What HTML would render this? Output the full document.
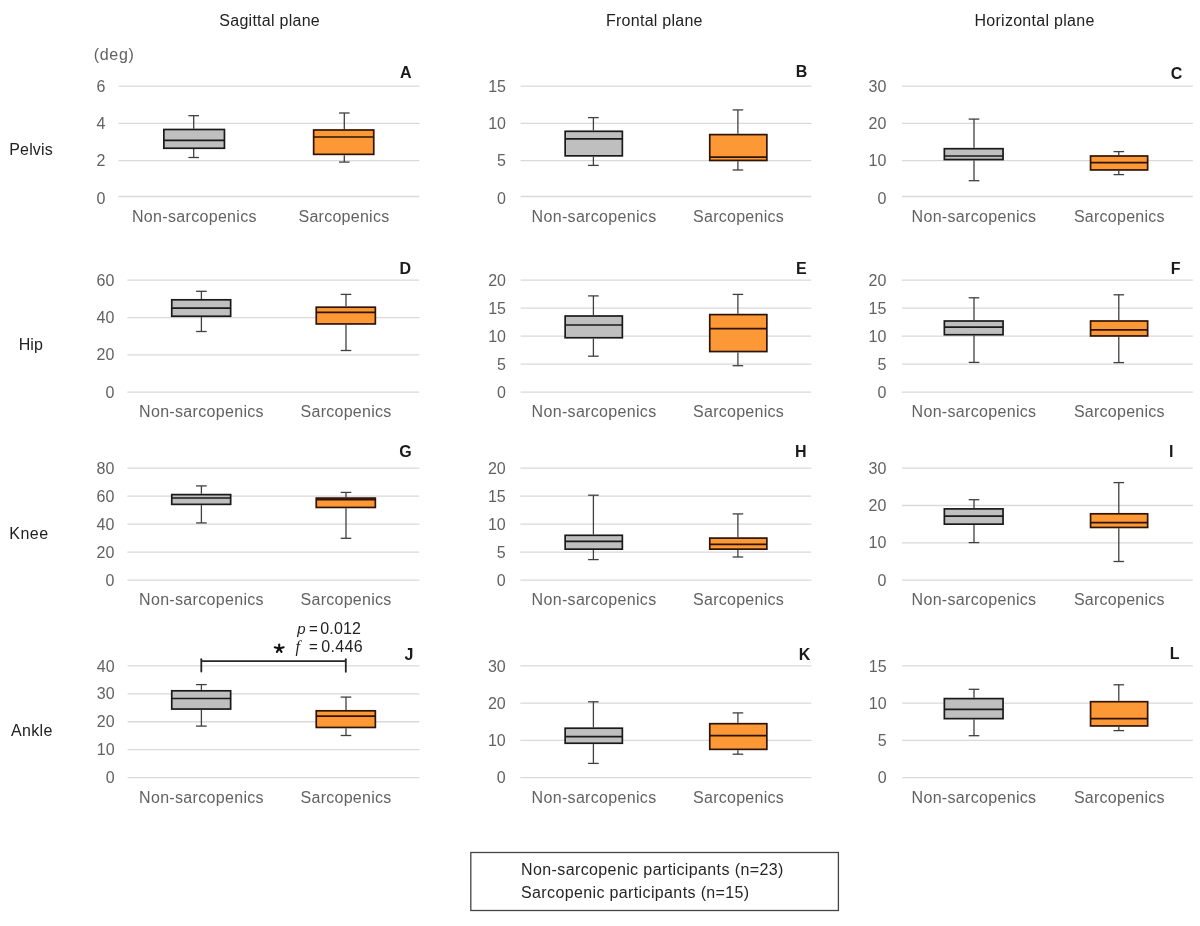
<!DOCTYPE html>
<html><head><meta charset="utf-8">
<style>
html,body{margin:0;padding:0;background:#fff;}
body{width:1200px;height:926px;overflow:hidden;}
svg{display:block;filter:blur(0.4px);}
text{font-family:"Liberation Sans", sans-serif;}
.tk{font-size:16px;fill:#626262;}
.xl{font-size:16px;fill:#626262;}
.ti{font-size:16px;fill:#222;}
.rl{font-size:16px;fill:#222;}
.let{font-size:16px;font-weight:bold;fill:#1a1a1a;}
.st{font-size:15px;fill:#222;}
.sd{letter-spacing:0.7px;}
.star{font-size:22px;font-weight:bold;fill:#111;}
.lg{font-size:16px;fill:#262626;}
</style></head>
<body>
<svg width="1200" height="926" viewBox="0 0 1200 926">
<rect width="1200" height="926" fill="#fff"/>
<line x1="118.5" y1="86.10" x2="419.3" y2="86.10" stroke="#d9d9d9" stroke-width="1.3"/>
<text x="105.5" y="91.70" text-anchor="end" class="tk">6</text>
<line x1="118.5" y1="123.40" x2="419.3" y2="123.40" stroke="#d9d9d9" stroke-width="1.3"/>
<text x="105.5" y="128.97" text-anchor="end" class="tk">4</text>
<line x1="118.5" y1="160.60" x2="419.3" y2="160.60" stroke="#d9d9d9" stroke-width="1.3"/>
<text x="105.5" y="166.24" text-anchor="end" class="tk">2</text>
<line x1="118.5" y1="196.50" x2="419.3" y2="196.50" stroke="#d9d9d9" stroke-width="1.3"/>
<text x="105.5" y="203.51" text-anchor="end" class="tk">0</text>
<line x1="193.70" y1="115.70" x2="193.70" y2="128.65" stroke="#404040" stroke-width="1.3"/>
<line x1="193.70" y1="149.10" x2="193.70" y2="157.50" stroke="#404040" stroke-width="1.3"/>
<line x1="188.40" y1="115.70" x2="199.00" y2="115.70" stroke="#404040" stroke-width="1.3"/>
<line x1="188.40" y1="157.50" x2="199.00" y2="157.50" stroke="#404040" stroke-width="1.3"/>
<rect x="163.85" y="129.50" width="60.60" height="18.75" fill="#bfbfbf" stroke="#1a1a1a" stroke-width="1.7"/>
<line x1="163.85" y1="140.30" x2="224.45" y2="140.30" stroke="#1a1a1a" stroke-width="1.7"/>
<text x="132.01" y="221.70" class="xl" letter-spacing="0.32">Non-sarcopenics</text>
<line x1="344.30" y1="113.00" x2="344.30" y2="129.15" stroke="#404040" stroke-width="1.3"/>
<line x1="344.30" y1="155.20" x2="344.30" y2="162.10" stroke="#404040" stroke-width="1.3"/>
<line x1="339.00" y1="113.00" x2="349.60" y2="113.00" stroke="#404040" stroke-width="1.3"/>
<line x1="339.00" y1="162.10" x2="349.60" y2="162.10" stroke="#404040" stroke-width="1.3"/>
<rect x="313.65" y="130.00" width="60.10" height="24.35" fill="#fc9936" stroke="#2e1406" stroke-width="1.7"/>
<line x1="313.65" y1="137.00" x2="373.75" y2="137.00" stroke="#2e1406" stroke-width="1.7"/>
<text x="298.50" y="221.70" class="xl" letter-spacing="0.26">Sarcopenics</text>
<text x="400.0" y="77.6" class="let">A</text>
<line x1="520.6" y1="86.10" x2="811.3" y2="86.10" stroke="#d9d9d9" stroke-width="1.3"/>
<text x="506.0" y="91.70" text-anchor="end" class="tk">15</text>
<line x1="520.6" y1="123.40" x2="811.3" y2="123.40" stroke="#d9d9d9" stroke-width="1.3"/>
<text x="506.0" y="128.97" text-anchor="end" class="tk">10</text>
<line x1="520.6" y1="160.60" x2="811.3" y2="160.60" stroke="#d9d9d9" stroke-width="1.3"/>
<text x="506.0" y="166.24" text-anchor="end" class="tk">5</text>
<line x1="520.6" y1="196.50" x2="811.3" y2="196.50" stroke="#d9d9d9" stroke-width="1.3"/>
<text x="506.0" y="203.51" text-anchor="end" class="tk">0</text>
<line x1="593.40" y1="117.60" x2="593.40" y2="130.45" stroke="#404040" stroke-width="1.3"/>
<line x1="593.40" y1="156.70" x2="593.40" y2="165.40" stroke="#404040" stroke-width="1.3"/>
<line x1="588.10" y1="117.60" x2="598.70" y2="117.60" stroke="#404040" stroke-width="1.3"/>
<line x1="588.10" y1="165.40" x2="598.70" y2="165.40" stroke="#404040" stroke-width="1.3"/>
<rect x="565.15" y="131.30" width="57.20" height="24.55" fill="#bfbfbf" stroke="#1a1a1a" stroke-width="1.7"/>
<line x1="565.15" y1="138.80" x2="622.35" y2="138.80" stroke="#1a1a1a" stroke-width="1.7"/>
<text x="531.61" y="221.70" class="xl" letter-spacing="0.32">Non-sarcopenics</text>
<line x1="737.90" y1="109.90" x2="737.90" y2="133.75" stroke="#404040" stroke-width="1.3"/>
<line x1="737.90" y1="161.30" x2="737.90" y2="170.00" stroke="#404040" stroke-width="1.3"/>
<line x1="732.60" y1="109.90" x2="743.20" y2="109.90" stroke="#404040" stroke-width="1.3"/>
<line x1="732.60" y1="170.00" x2="743.20" y2="170.00" stroke="#404040" stroke-width="1.3"/>
<rect x="709.75" y="134.60" width="57.10" height="25.85" fill="#fc9936" stroke="#2e1406" stroke-width="1.7"/>
<line x1="709.75" y1="157.20" x2="766.85" y2="157.20" stroke="#2e1406" stroke-width="1.7"/>
<text x="693.10" y="221.70" class="xl" letter-spacing="0.26">Sarcopenics</text>
<text x="795.8" y="77.4" class="let">B</text>
<line x1="901.9" y1="86.10" x2="1192.8" y2="86.10" stroke="#d9d9d9" stroke-width="1.3"/>
<text x="886.3" y="91.70" text-anchor="end" class="tk">30</text>
<line x1="901.9" y1="123.40" x2="1192.8" y2="123.40" stroke="#d9d9d9" stroke-width="1.3"/>
<text x="886.3" y="128.97" text-anchor="end" class="tk">20</text>
<line x1="901.9" y1="160.60" x2="1192.8" y2="160.60" stroke="#d9d9d9" stroke-width="1.3"/>
<text x="886.3" y="166.24" text-anchor="end" class="tk">10</text>
<line x1="901.9" y1="196.50" x2="1192.8" y2="196.50" stroke="#d9d9d9" stroke-width="1.3"/>
<text x="886.3" y="203.51" text-anchor="end" class="tk">0</text>
<line x1="974.00" y1="119.10" x2="974.00" y2="147.85" stroke="#404040" stroke-width="1.3"/>
<line x1="974.00" y1="160.40" x2="974.00" y2="180.70" stroke="#404040" stroke-width="1.3"/>
<line x1="968.70" y1="119.10" x2="979.30" y2="119.10" stroke="#404040" stroke-width="1.3"/>
<line x1="968.70" y1="180.70" x2="979.30" y2="180.70" stroke="#404040" stroke-width="1.3"/>
<rect x="944.35" y="148.70" width="58.70" height="10.85" fill="#bfbfbf" stroke="#1a1a1a" stroke-width="1.7"/>
<line x1="944.35" y1="156.00" x2="1003.05" y2="156.00" stroke="#1a1a1a" stroke-width="1.7"/>
<text x="911.56" y="221.70" class="xl" letter-spacing="0.32">Non-sarcopenics</text>
<line x1="1118.80" y1="151.60" x2="1118.80" y2="155.15" stroke="#404040" stroke-width="1.3"/>
<line x1="1118.80" y1="170.80" x2="1118.80" y2="174.60" stroke="#404040" stroke-width="1.3"/>
<line x1="1113.50" y1="151.60" x2="1124.10" y2="151.60" stroke="#404040" stroke-width="1.3"/>
<line x1="1113.50" y1="174.60" x2="1124.10" y2="174.60" stroke="#404040" stroke-width="1.3"/>
<rect x="1090.55" y="156.00" width="57.10" height="13.95" fill="#fc9936" stroke="#2e1406" stroke-width="1.7"/>
<line x1="1090.55" y1="162.60" x2="1147.65" y2="162.60" stroke="#2e1406" stroke-width="1.7"/>
<text x="1073.90" y="221.70" class="xl" letter-spacing="0.26">Sarcopenics</text>
<text x="1170.7" y="78.8" class="let">C</text>
<line x1="127.4" y1="280.20" x2="419.3" y2="280.20" stroke="#d9d9d9" stroke-width="1.3"/>
<text x="114.4" y="285.80" text-anchor="end" class="tk">60</text>
<line x1="127.4" y1="317.53" x2="419.3" y2="317.53" stroke="#d9d9d9" stroke-width="1.3"/>
<text x="114.4" y="323.13" text-anchor="end" class="tk">40</text>
<line x1="127.4" y1="354.87" x2="419.3" y2="354.87" stroke="#d9d9d9" stroke-width="1.3"/>
<text x="114.4" y="360.47" text-anchor="end" class="tk">20</text>
<line x1="127.4" y1="392.20" x2="419.3" y2="392.20" stroke="#d9d9d9" stroke-width="1.3"/>
<text x="114.4" y="397.80" text-anchor="end" class="tk">0</text>
<line x1="201.40" y1="291.30" x2="201.40" y2="298.95" stroke="#404040" stroke-width="1.3"/>
<line x1="201.40" y1="317.10" x2="201.40" y2="331.50" stroke="#404040" stroke-width="1.3"/>
<line x1="196.10" y1="291.30" x2="206.70" y2="291.30" stroke="#404040" stroke-width="1.3"/>
<line x1="196.10" y1="331.50" x2="206.70" y2="331.50" stroke="#404040" stroke-width="1.3"/>
<rect x="171.75" y="299.80" width="58.90" height="16.45" fill="#bfbfbf" stroke="#1a1a1a" stroke-width="1.7"/>
<line x1="171.75" y1="308.10" x2="230.65" y2="308.10" stroke="#1a1a1a" stroke-width="1.7"/>
<text x="139.06" y="417.40" class="xl" letter-spacing="0.32">Non-sarcopenics</text>
<line x1="346.00" y1="294.40" x2="346.00" y2="306.35" stroke="#404040" stroke-width="1.3"/>
<line x1="346.00" y1="324.80" x2="346.00" y2="350.50" stroke="#404040" stroke-width="1.3"/>
<line x1="340.70" y1="294.40" x2="351.30" y2="294.40" stroke="#404040" stroke-width="1.3"/>
<line x1="340.70" y1="350.50" x2="351.30" y2="350.50" stroke="#404040" stroke-width="1.3"/>
<rect x="316.25" y="307.20" width="59.10" height="16.75" fill="#fc9936" stroke="#2e1406" stroke-width="1.7"/>
<line x1="316.25" y1="312.40" x2="375.35" y2="312.40" stroke="#2e1406" stroke-width="1.7"/>
<text x="300.60" y="417.40" class="xl" letter-spacing="0.26">Sarcopenics</text>
<text x="399.6" y="273.6" class="let">D</text>
<line x1="520.6" y1="280.20" x2="811.3" y2="280.20" stroke="#d9d9d9" stroke-width="1.3"/>
<text x="506.0" y="285.80" text-anchor="end" class="tk">20</text>
<line x1="520.6" y1="308.20" x2="811.3" y2="308.20" stroke="#d9d9d9" stroke-width="1.3"/>
<text x="506.0" y="313.80" text-anchor="end" class="tk">15</text>
<line x1="520.6" y1="336.20" x2="811.3" y2="336.20" stroke="#d9d9d9" stroke-width="1.3"/>
<text x="506.0" y="341.80" text-anchor="end" class="tk">10</text>
<line x1="520.6" y1="364.20" x2="811.3" y2="364.20" stroke="#d9d9d9" stroke-width="1.3"/>
<text x="506.0" y="369.80" text-anchor="end" class="tk">5</text>
<line x1="520.6" y1="392.20" x2="811.3" y2="392.20" stroke="#d9d9d9" stroke-width="1.3"/>
<text x="506.0" y="397.80" text-anchor="end" class="tk">0</text>
<line x1="593.40" y1="295.90" x2="593.40" y2="315.15" stroke="#404040" stroke-width="1.3"/>
<line x1="593.40" y1="338.60" x2="593.40" y2="356.20" stroke="#404040" stroke-width="1.3"/>
<line x1="588.10" y1="295.90" x2="598.70" y2="295.90" stroke="#404040" stroke-width="1.3"/>
<line x1="588.10" y1="356.20" x2="598.70" y2="356.20" stroke="#404040" stroke-width="1.3"/>
<rect x="565.15" y="316.00" width="57.20" height="21.75" fill="#bfbfbf" stroke="#1a1a1a" stroke-width="1.7"/>
<line x1="565.15" y1="325.00" x2="622.35" y2="325.00" stroke="#1a1a1a" stroke-width="1.7"/>
<text x="531.61" y="417.40" class="xl" letter-spacing="0.32">Non-sarcopenics</text>
<line x1="737.90" y1="294.40" x2="737.90" y2="313.75" stroke="#404040" stroke-width="1.3"/>
<line x1="737.90" y1="352.40" x2="737.90" y2="365.70" stroke="#404040" stroke-width="1.3"/>
<line x1="732.60" y1="294.40" x2="743.20" y2="294.40" stroke="#404040" stroke-width="1.3"/>
<line x1="732.60" y1="365.70" x2="743.20" y2="365.70" stroke="#404040" stroke-width="1.3"/>
<rect x="709.75" y="314.60" width="57.10" height="36.95" fill="#fc9936" stroke="#2e1406" stroke-width="1.7"/>
<line x1="709.75" y1="328.60" x2="766.85" y2="328.60" stroke="#2e1406" stroke-width="1.7"/>
<text x="693.10" y="417.40" class="xl" letter-spacing="0.26">Sarcopenics</text>
<text x="795.9" y="273.5" class="let">E</text>
<line x1="901.9" y1="280.20" x2="1192.8" y2="280.20" stroke="#d9d9d9" stroke-width="1.3"/>
<text x="886.3" y="285.80" text-anchor="end" class="tk">20</text>
<line x1="901.9" y1="308.20" x2="1192.8" y2="308.20" stroke="#d9d9d9" stroke-width="1.3"/>
<text x="886.3" y="313.80" text-anchor="end" class="tk">15</text>
<line x1="901.9" y1="336.20" x2="1192.8" y2="336.20" stroke="#d9d9d9" stroke-width="1.3"/>
<text x="886.3" y="341.80" text-anchor="end" class="tk">10</text>
<line x1="901.9" y1="364.20" x2="1192.8" y2="364.20" stroke="#d9d9d9" stroke-width="1.3"/>
<text x="886.3" y="369.80" text-anchor="end" class="tk">5</text>
<line x1="901.9" y1="392.20" x2="1192.8" y2="392.20" stroke="#d9d9d9" stroke-width="1.3"/>
<text x="886.3" y="397.80" text-anchor="end" class="tk">0</text>
<line x1="974.00" y1="297.80" x2="974.00" y2="320.15" stroke="#404040" stroke-width="1.3"/>
<line x1="974.00" y1="335.60" x2="974.00" y2="362.40" stroke="#404040" stroke-width="1.3"/>
<line x1="968.70" y1="297.80" x2="979.30" y2="297.80" stroke="#404040" stroke-width="1.3"/>
<line x1="968.70" y1="362.40" x2="979.30" y2="362.40" stroke="#404040" stroke-width="1.3"/>
<rect x="944.35" y="321.00" width="58.70" height="13.75" fill="#bfbfbf" stroke="#1a1a1a" stroke-width="1.7"/>
<line x1="944.35" y1="327.10" x2="1003.05" y2="327.10" stroke="#1a1a1a" stroke-width="1.7"/>
<text x="911.56" y="417.40" class="xl" letter-spacing="0.32">Non-sarcopenics</text>
<line x1="1118.80" y1="294.80" x2="1118.80" y2="320.15" stroke="#404040" stroke-width="1.3"/>
<line x1="1118.80" y1="336.80" x2="1118.80" y2="362.60" stroke="#404040" stroke-width="1.3"/>
<line x1="1113.50" y1="294.80" x2="1124.10" y2="294.80" stroke="#404040" stroke-width="1.3"/>
<line x1="1113.50" y1="362.60" x2="1124.10" y2="362.60" stroke="#404040" stroke-width="1.3"/>
<rect x="1090.55" y="321.00" width="57.10" height="14.95" fill="#fc9936" stroke="#2e1406" stroke-width="1.7"/>
<line x1="1090.55" y1="329.90" x2="1147.65" y2="329.90" stroke="#2e1406" stroke-width="1.7"/>
<text x="1073.90" y="417.40" class="xl" letter-spacing="0.26">Sarcopenics</text>
<text x="1170.8" y="273.5" class="let">F</text>
<line x1="127.4" y1="468.20" x2="419.3" y2="468.20" stroke="#d9d9d9" stroke-width="1.3"/>
<text x="114.4" y="473.80" text-anchor="end" class="tk">80</text>
<line x1="127.4" y1="496.18" x2="419.3" y2="496.18" stroke="#d9d9d9" stroke-width="1.3"/>
<text x="114.4" y="501.78" text-anchor="end" class="tk">60</text>
<line x1="127.4" y1="524.15" x2="419.3" y2="524.15" stroke="#d9d9d9" stroke-width="1.3"/>
<text x="114.4" y="529.75" text-anchor="end" class="tk">40</text>
<line x1="127.4" y1="552.12" x2="419.3" y2="552.12" stroke="#d9d9d9" stroke-width="1.3"/>
<text x="114.4" y="557.73" text-anchor="end" class="tk">20</text>
<line x1="127.4" y1="580.10" x2="419.3" y2="580.10" stroke="#d9d9d9" stroke-width="1.3"/>
<text x="114.4" y="585.70" text-anchor="end" class="tk">0</text>
<line x1="201.40" y1="485.90" x2="201.40" y2="493.75" stroke="#404040" stroke-width="1.3"/>
<line x1="201.40" y1="505.20" x2="201.40" y2="522.90" stroke="#404040" stroke-width="1.3"/>
<line x1="196.10" y1="485.90" x2="206.70" y2="485.90" stroke="#404040" stroke-width="1.3"/>
<line x1="196.10" y1="522.90" x2="206.70" y2="522.90" stroke="#404040" stroke-width="1.3"/>
<rect x="171.75" y="494.60" width="58.90" height="9.75" fill="#bfbfbf" stroke="#1a1a1a" stroke-width="1.7"/>
<line x1="171.75" y1="498.00" x2="230.65" y2="498.00" stroke="#1a1a1a" stroke-width="1.7"/>
<text x="139.06" y="605.30" class="xl" letter-spacing="0.32">Non-sarcopenics</text>
<line x1="346.00" y1="492.40" x2="346.00" y2="497.25" stroke="#404040" stroke-width="1.3"/>
<line x1="346.00" y1="508.30" x2="346.00" y2="538.30" stroke="#404040" stroke-width="1.3"/>
<line x1="340.70" y1="492.40" x2="351.30" y2="492.40" stroke="#404040" stroke-width="1.3"/>
<line x1="340.70" y1="538.30" x2="351.30" y2="538.30" stroke="#404040" stroke-width="1.3"/>
<rect x="316.25" y="498.10" width="59.10" height="9.35" fill="#fc9936" stroke="#2e1406" stroke-width="1.7"/>
<line x1="316.25" y1="499.70" x2="375.35" y2="499.70" stroke="#2e1406" stroke-width="1.7"/>
<text x="300.60" y="605.30" class="xl" letter-spacing="0.26">Sarcopenics</text>
<text x="399.2" y="456.8" class="let">G</text>
<line x1="520.3" y1="468.20" x2="811.3" y2="468.20" stroke="#d9d9d9" stroke-width="1.3"/>
<text x="505.7" y="473.80" text-anchor="end" class="tk">20</text>
<line x1="520.3" y1="496.18" x2="811.3" y2="496.18" stroke="#d9d9d9" stroke-width="1.3"/>
<text x="505.7" y="501.78" text-anchor="end" class="tk">15</text>
<line x1="520.3" y1="524.15" x2="811.3" y2="524.15" stroke="#d9d9d9" stroke-width="1.3"/>
<text x="505.7" y="529.75" text-anchor="end" class="tk">10</text>
<line x1="520.3" y1="552.12" x2="811.3" y2="552.12" stroke="#d9d9d9" stroke-width="1.3"/>
<text x="505.7" y="557.73" text-anchor="end" class="tk">5</text>
<line x1="520.3" y1="580.10" x2="811.3" y2="580.10" stroke="#d9d9d9" stroke-width="1.3"/>
<text x="505.7" y="585.70" text-anchor="end" class="tk">0</text>
<line x1="593.40" y1="495.20" x2="593.40" y2="534.45" stroke="#404040" stroke-width="1.3"/>
<line x1="593.40" y1="550.00" x2="593.40" y2="559.60" stroke="#404040" stroke-width="1.3"/>
<line x1="588.10" y1="495.20" x2="598.70" y2="495.20" stroke="#404040" stroke-width="1.3"/>
<line x1="588.10" y1="559.60" x2="598.70" y2="559.60" stroke="#404040" stroke-width="1.3"/>
<rect x="565.15" y="535.30" width="57.20" height="13.85" fill="#bfbfbf" stroke="#1a1a1a" stroke-width="1.7"/>
<line x1="565.15" y1="541.40" x2="622.35" y2="541.40" stroke="#1a1a1a" stroke-width="1.7"/>
<text x="531.61" y="605.30" class="xl" letter-spacing="0.32">Non-sarcopenics</text>
<line x1="737.90" y1="513.90" x2="737.90" y2="537.25" stroke="#404040" stroke-width="1.3"/>
<line x1="737.90" y1="550.00" x2="737.90" y2="557.00" stroke="#404040" stroke-width="1.3"/>
<line x1="732.60" y1="513.90" x2="743.20" y2="513.90" stroke="#404040" stroke-width="1.3"/>
<line x1="732.60" y1="557.00" x2="743.20" y2="557.00" stroke="#404040" stroke-width="1.3"/>
<rect x="709.75" y="538.10" width="57.10" height="11.05" fill="#fc9936" stroke="#2e1406" stroke-width="1.7"/>
<line x1="709.75" y1="544.40" x2="766.85" y2="544.40" stroke="#2e1406" stroke-width="1.7"/>
<text x="693.10" y="605.30" class="xl" letter-spacing="0.26">Sarcopenics</text>
<text x="794.9" y="456.7" class="let">H</text>
<line x1="901.9" y1="468.20" x2="1192.8" y2="468.20" stroke="#d9d9d9" stroke-width="1.3"/>
<text x="886.3" y="473.80" text-anchor="end" class="tk">30</text>
<line x1="901.9" y1="505.50" x2="1192.8" y2="505.50" stroke="#d9d9d9" stroke-width="1.3"/>
<text x="886.3" y="511.10" text-anchor="end" class="tk">20</text>
<line x1="901.9" y1="542.80" x2="1192.8" y2="542.80" stroke="#d9d9d9" stroke-width="1.3"/>
<text x="886.3" y="548.40" text-anchor="end" class="tk">10</text>
<line x1="901.9" y1="580.10" x2="1192.8" y2="580.10" stroke="#d9d9d9" stroke-width="1.3"/>
<text x="886.3" y="585.70" text-anchor="end" class="tk">0</text>
<line x1="974.00" y1="499.70" x2="974.00" y2="508.05" stroke="#404040" stroke-width="1.3"/>
<line x1="974.00" y1="525.00" x2="974.00" y2="542.60" stroke="#404040" stroke-width="1.3"/>
<line x1="968.70" y1="499.70" x2="979.30" y2="499.70" stroke="#404040" stroke-width="1.3"/>
<line x1="968.70" y1="542.60" x2="979.30" y2="542.60" stroke="#404040" stroke-width="1.3"/>
<rect x="944.35" y="508.90" width="58.70" height="15.25" fill="#bfbfbf" stroke="#1a1a1a" stroke-width="1.7"/>
<line x1="944.35" y1="516.20" x2="1003.05" y2="516.20" stroke="#1a1a1a" stroke-width="1.7"/>
<text x="911.56" y="605.30" class="xl" letter-spacing="0.32">Non-sarcopenics</text>
<line x1="1118.80" y1="482.60" x2="1118.80" y2="512.95" stroke="#404040" stroke-width="1.3"/>
<line x1="1118.80" y1="528.30" x2="1118.80" y2="561.50" stroke="#404040" stroke-width="1.3"/>
<line x1="1113.50" y1="482.60" x2="1124.10" y2="482.60" stroke="#404040" stroke-width="1.3"/>
<line x1="1113.50" y1="561.50" x2="1124.10" y2="561.50" stroke="#404040" stroke-width="1.3"/>
<rect x="1090.55" y="513.80" width="57.10" height="13.65" fill="#fc9936" stroke="#2e1406" stroke-width="1.7"/>
<line x1="1090.55" y1="522.60" x2="1147.65" y2="522.60" stroke="#2e1406" stroke-width="1.7"/>
<text x="1073.90" y="605.30" class="xl" letter-spacing="0.26">Sarcopenics</text>
<text x="1169.0" y="456.7" class="let">I</text>
<line x1="127.6" y1="665.90" x2="419.3" y2="665.90" stroke="#d9d9d9" stroke-width="1.3"/>
<text x="114.6" y="671.50" text-anchor="end" class="tk">40</text>
<line x1="127.6" y1="693.83" x2="419.3" y2="693.83" stroke="#d9d9d9" stroke-width="1.3"/>
<text x="114.6" y="699.43" text-anchor="end" class="tk">30</text>
<line x1="127.6" y1="721.75" x2="419.3" y2="721.75" stroke="#d9d9d9" stroke-width="1.3"/>
<text x="114.6" y="727.35" text-anchor="end" class="tk">20</text>
<line x1="127.6" y1="749.67" x2="419.3" y2="749.67" stroke="#d9d9d9" stroke-width="1.3"/>
<text x="114.6" y="755.27" text-anchor="end" class="tk">10</text>
<line x1="127.6" y1="777.60" x2="419.3" y2="777.60" stroke="#d9d9d9" stroke-width="1.3"/>
<text x="114.6" y="783.20" text-anchor="end" class="tk">0</text>
<line x1="201.40" y1="684.60" x2="201.40" y2="689.95" stroke="#404040" stroke-width="1.3"/>
<line x1="201.40" y1="709.90" x2="201.40" y2="726.10" stroke="#404040" stroke-width="1.3"/>
<line x1="196.10" y1="684.60" x2="206.70" y2="684.60" stroke="#404040" stroke-width="1.3"/>
<line x1="196.10" y1="726.10" x2="206.70" y2="726.10" stroke="#404040" stroke-width="1.3"/>
<rect x="171.75" y="690.80" width="58.90" height="18.25" fill="#bfbfbf" stroke="#1a1a1a" stroke-width="1.7"/>
<line x1="171.75" y1="698.50" x2="230.65" y2="698.50" stroke="#1a1a1a" stroke-width="1.7"/>
<text x="139.06" y="802.80" class="xl" letter-spacing="0.32">Non-sarcopenics</text>
<line x1="346.00" y1="697.10" x2="346.00" y2="709.95" stroke="#404040" stroke-width="1.3"/>
<line x1="346.00" y1="728.30" x2="346.00" y2="735.50" stroke="#404040" stroke-width="1.3"/>
<line x1="340.70" y1="697.10" x2="351.30" y2="697.10" stroke="#404040" stroke-width="1.3"/>
<line x1="340.70" y1="735.50" x2="351.30" y2="735.50" stroke="#404040" stroke-width="1.3"/>
<rect x="316.25" y="710.80" width="59.10" height="16.65" fill="#fc9936" stroke="#2e1406" stroke-width="1.7"/>
<line x1="316.25" y1="716.20" x2="375.35" y2="716.20" stroke="#2e1406" stroke-width="1.7"/>
<text x="300.60" y="802.80" class="xl" letter-spacing="0.26">Sarcopenics</text>
<text x="404.6" y="660.0" class="let">J</text>
<line x1="520.3" y1="665.90" x2="811.3" y2="665.90" stroke="#d9d9d9" stroke-width="1.3"/>
<text x="505.7" y="671.50" text-anchor="end" class="tk">30</text>
<line x1="520.3" y1="703.13" x2="811.3" y2="703.13" stroke="#d9d9d9" stroke-width="1.3"/>
<text x="505.7" y="708.73" text-anchor="end" class="tk">20</text>
<line x1="520.3" y1="740.37" x2="811.3" y2="740.37" stroke="#d9d9d9" stroke-width="1.3"/>
<text x="505.7" y="745.97" text-anchor="end" class="tk">10</text>
<line x1="520.3" y1="777.60" x2="811.3" y2="777.60" stroke="#d9d9d9" stroke-width="1.3"/>
<text x="505.7" y="783.20" text-anchor="end" class="tk">0</text>
<line x1="593.40" y1="701.80" x2="593.40" y2="727.35" stroke="#404040" stroke-width="1.3"/>
<line x1="593.40" y1="744.10" x2="593.40" y2="763.40" stroke="#404040" stroke-width="1.3"/>
<line x1="588.10" y1="701.80" x2="598.70" y2="701.80" stroke="#404040" stroke-width="1.3"/>
<line x1="588.10" y1="763.40" x2="598.70" y2="763.40" stroke="#404040" stroke-width="1.3"/>
<rect x="565.15" y="728.20" width="57.20" height="15.05" fill="#bfbfbf" stroke="#1a1a1a" stroke-width="1.7"/>
<line x1="565.15" y1="736.70" x2="622.35" y2="736.70" stroke="#1a1a1a" stroke-width="1.7"/>
<text x="531.61" y="802.80" class="xl" letter-spacing="0.32">Non-sarcopenics</text>
<line x1="737.90" y1="712.90" x2="737.90" y2="722.85" stroke="#404040" stroke-width="1.3"/>
<line x1="737.90" y1="750.20" x2="737.90" y2="754.20" stroke="#404040" stroke-width="1.3"/>
<line x1="732.60" y1="712.90" x2="743.20" y2="712.90" stroke="#404040" stroke-width="1.3"/>
<line x1="732.60" y1="754.20" x2="743.20" y2="754.20" stroke="#404040" stroke-width="1.3"/>
<rect x="709.75" y="723.70" width="57.10" height="25.65" fill="#fc9936" stroke="#2e1406" stroke-width="1.7"/>
<line x1="709.75" y1="735.70" x2="766.85" y2="735.70" stroke="#2e1406" stroke-width="1.7"/>
<text x="693.10" y="802.80" class="xl" letter-spacing="0.26">Sarcopenics</text>
<text x="798.7" y="660.2" class="let">K</text>
<line x1="902.2" y1="665.90" x2="1192.8" y2="665.90" stroke="#d9d9d9" stroke-width="1.3"/>
<text x="886.6" y="671.50" text-anchor="end" class="tk">15</text>
<line x1="902.2" y1="703.13" x2="1192.8" y2="703.13" stroke="#d9d9d9" stroke-width="1.3"/>
<text x="886.6" y="708.73" text-anchor="end" class="tk">10</text>
<line x1="902.2" y1="740.37" x2="1192.8" y2="740.37" stroke="#d9d9d9" stroke-width="1.3"/>
<text x="886.6" y="745.97" text-anchor="end" class="tk">5</text>
<line x1="902.2" y1="777.60" x2="1192.8" y2="777.60" stroke="#d9d9d9" stroke-width="1.3"/>
<text x="886.6" y="783.20" text-anchor="end" class="tk">0</text>
<line x1="974.00" y1="689.30" x2="974.00" y2="697.75" stroke="#404040" stroke-width="1.3"/>
<line x1="974.00" y1="719.50" x2="974.00" y2="735.70" stroke="#404040" stroke-width="1.3"/>
<line x1="968.70" y1="689.30" x2="979.30" y2="689.30" stroke="#404040" stroke-width="1.3"/>
<line x1="968.70" y1="735.70" x2="979.30" y2="735.70" stroke="#404040" stroke-width="1.3"/>
<rect x="944.35" y="698.60" width="58.70" height="20.05" fill="#bfbfbf" stroke="#1a1a1a" stroke-width="1.7"/>
<line x1="944.35" y1="709.30" x2="1003.05" y2="709.30" stroke="#1a1a1a" stroke-width="1.7"/>
<text x="911.56" y="802.80" class="xl" letter-spacing="0.32">Non-sarcopenics</text>
<line x1="1118.80" y1="684.80" x2="1118.80" y2="700.85" stroke="#404040" stroke-width="1.3"/>
<line x1="1118.80" y1="726.80" x2="1118.80" y2="730.60" stroke="#404040" stroke-width="1.3"/>
<line x1="1113.50" y1="684.80" x2="1124.10" y2="684.80" stroke="#404040" stroke-width="1.3"/>
<line x1="1113.50" y1="730.60" x2="1124.10" y2="730.60" stroke="#404040" stroke-width="1.3"/>
<rect x="1090.55" y="701.70" width="57.10" height="24.25" fill="#fc9936" stroke="#2e1406" stroke-width="1.7"/>
<line x1="1090.55" y1="718.70" x2="1147.65" y2="718.70" stroke="#2e1406" stroke-width="1.7"/>
<text x="1073.90" y="802.80" class="xl" letter-spacing="0.26">Sarcopenics</text>
<text x="1169.7" y="659.0" class="let">L</text>
<text x="219.3" y="26.1" class="ti" letter-spacing="0.27">Sagittal plane</text>
<text x="606.0" y="26.1" class="ti" letter-spacing="0.26">Frontal plane</text>
<text x="974.4" y="26.1" class="ti" letter-spacing="0.29">Horizontal plane</text>
<text x="93.7" y="60.2" class="tk" letter-spacing="0.72">(deg)</text>
<text x="9.3" y="155.3" class="rl" letter-spacing="0.14">Pelvis</text>
<text x="18.8" y="350.2" class="rl">Hip</text>
<text x="9.2" y="539.0" class="rl" letter-spacing="0.55">Knee</text>
<text x="11.0" y="736.0" class="rl" letter-spacing="0.32">Ankle</text>
<line x1="201.3" y1="661.1" x2="345.8" y2="661.1" stroke="#262626" stroke-width="1.8"/>
<line x1="201.3" y1="659.2" x2="201.3" y2="671.6" stroke="#262626" stroke-width="1.8" stroke-linecap="round"/>
<line x1="345.8" y1="659.2" x2="345.8" y2="671.8" stroke="#262626" stroke-width="1.8" stroke-linecap="round"/>
<line x1="279.2" y1="648.4" x2="279.2" y2="644.6" stroke="#111" stroke-width="2.1" stroke-linecap="round"/>
<line x1="279.2" y1="648.4" x2="274.8" y2="647.2" stroke="#111" stroke-width="2.1" stroke-linecap="round"/>
<line x1="279.2" y1="648.4" x2="283.6" y2="647.2" stroke="#111" stroke-width="2.1" stroke-linecap="round"/>
<line x1="279.2" y1="648.4" x2="276.9" y2="651.8" stroke="#111" stroke-width="2.1" stroke-linecap="round"/>
<line x1="279.2" y1="648.4" x2="281.5" y2="651.8" stroke="#111" stroke-width="2.1" stroke-linecap="round"/>
<text x="297.2" y="633.8" class="st" font-style="italic">p</text>
<text x="309" y="633.8" class="st">=</text>
<text x="320.3" y="633.8" class="st" style="font-size:16px" letter-spacing="0.15">0.012</text>
<text x="295.6" y="651.7" class="st" font-style="italic" style="font-family:'Liberation Serif', serif;font-size:16px">f</text>
<text x="309" y="651.7" class="st">=</text>
<text x="321.2" y="651.7" class="st" style="font-size:16px" letter-spacing="0.35">0.446</text>
<rect x="470.8" y="852.5" width="367.6" height="58" fill="#fff" stroke="#444" stroke-width="1.3"/>
<text x="521.0" y="874.8" class="lg" letter-spacing="0.39">Non-sarcopenic participants (n=23)</text>
<text x="521.0" y="897.5" class="lg" letter-spacing="0.37">Sarcopenic participants (n=15)</text>
</svg>
</body></html>
